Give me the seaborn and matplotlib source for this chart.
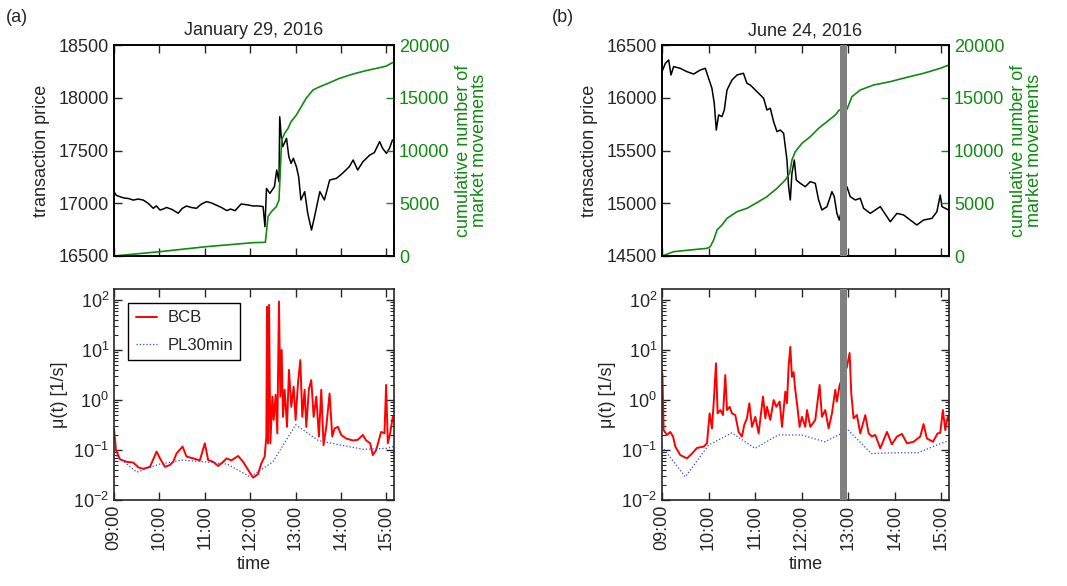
import matplotlib
matplotlib.use('Agg')
import matplotlib.pyplot as plt
import numpy as np
import pandas as pd
import seaborn as sns

# time is in minutes after 09:00
time_ticks = [0, 60, 120, 180, 240, 300, 360]
time_labels = ['09:00', '10:00', '11:00', '12:00', '13:00', '14:00', '15:00']
titles = ['January 29, 2016', 'June 24, 2016']
panel_tags = ['(a)', '(b)']

# (a) January 29, 2016
jan_price_t = [0, 3, 7.9, 13, 19, 25.5, 32, 38.7, 45, 51.9,
               56, 60.7, 65, 69.5, 77, 84.8, 90, 95.8, 102, 109,
               115, 122, 128, 135, 142, 149, 154, 160, 168, 176,
               184, 190, 197, 199.5, 201.5, 206,
               212, 215, 218, 219, 221, 223, 228, 231, 234, 237,
               241, 244, 247, 252, 256, 261, 265, 272, 278, 285,
               294, 302, 311, 316, 322, 329, 338, 344, 351, 355,
               360, 364, 368]
jan_price = [17110, 17075, 17062, 17050, 17045, 17030, 17040, 17030, 17000, 16952,
             16975, 16936, 16945, 16960, 16940, 16905, 16950, 16974, 16960, 16952,
             16990, 17015, 17005, 16983, 16960, 16930, 16945, 16930, 16993, 16985,
             16974, 16975, 16968, 16778, 17140, 17094,
             17157, 17315, 17205, 17820, 17631, 17536, 17615, 17442, 17378, 17426,
             17347, 17252, 17031, 17110, 16904, 16746, 16873, 17110, 17031, 17220,
             17236, 17284, 17347, 17410, 17315, 17394, 17457, 17480, 17584, 17520,
             17473, 17520, 17600]
jan_cum_t = [0, 60.7, 122, 184, 200, 203.5, 208, 214.5, 218, 220,
             221.5, 225.5, 230, 234, 241, 247.5, 254, 263, 272, 283,
             298, 316, 333, 351, 360, 368]
jan_cum = [0, 411, 885, 1264, 1296, 3730, 4200, 4677, 5300, 8470,
           11000, 11630, 12100, 12735, 13370, 14160, 14950, 15740, 16050, 16370,
           16840, 17250, 17570, 17850, 18010, 18330]
jan_bcb_t = [0, 2.6, 7.9, 16.7, 25.5, 32.1, 38.7, 47.5, 56.3, 60.7,
             67.3, 73.9, 78.2, 82.6, 90.6, 95.8, 104.6, 113.4, 120, 124.4,
             131, 137.6, 144.2, 148.6, 155.2, 164, 170.6, 177.2, 183.8, 190.3,
             194.7, 199.1, 201.3, 202.2, 203.5, 204.9, 206.6, 209.3, 211, 213.6,
             215.8, 218, 219.8, 221.6, 223.3, 225.5, 228.6, 231.2, 234.3, 237.4,
             240, 243.1, 246.2, 248.8, 251.9, 254.1, 257.6, 260.7, 263.8, 267.3,
             270.8, 273.9, 276.9, 280.5, 284.9, 288.4, 291.5, 295.9, 300.2, 306.8,
             315.6, 322.2, 328.8, 333.2, 338.5, 342, 346.4, 353, 357.4, 359.6,
             361.8, 364.9, 368.4]
jan_bcb = [0.27, 0.1, 0.065, 0.058, 0.056, 0.045, 0.042, 0.046, 0.093, 0.068,
           0.046, 0.05, 0.058, 0.085, 0.117, 0.074, 0.068, 0.062, 0.136, 0.063,
           0.058, 0.048, 0.058, 0.068, 0.062, 0.076, 0.058, 0.04, 0.028, 0.033,
           0.054, 0.074, 0.186, 73, 0.136, 80, 0.136, 1.17, 0.4, 1.27,
           0.215, 93, 1.17, 10, 0.46, 1.6, 0.29, 4, 0.73, 1.85,
           0.4, 2.15, 6.3, 0.46, 1.6, 0.29, 1.67, 2.5, 0.46, 1.17,
           0.186, 1.6, 0.125, 0.29, 1.35, 0.186, 0.27, 0.29, 0.2, 0.17,
           0.155, 0.16, 0.2, 0.155, 0.136, 0.079, 0.1, 0.23, 0.215, 2.0,
           0.136, 0.215, 0.46]
jan_pl_t = [0, 30, 60, 90, 120, 150, 180, 210, 240, 270, 300, 330, 360, 369]
jan_pl = [0.085, 0.036, 0.052, 0.063, 0.058, 0.052, 0.029, 0.058, 0.32, 0.155,
          0.125, 0.103, 0.108, 0.117]

# (b) June 24, 2016
jun_price_t = [0, 4.3, 8.6, 11.6, 15, 23.6, 32.2, 40.8, 49.4, 55.8,
               60.1, 64.4, 67.4, 70, 73, 77.3, 80.3, 83.8, 90.2, 96.7,
               105, 109.5, 113.8, 122.4, 131, 135.3, 139.6, 143.9, 148.2, 152.5,
               156.8, 161.1, 163.2, 165.4, 167.5, 170.6, 173.1, 178.3, 184.7, 191.2,
               197.6, 201.9, 206.2, 212.7, 219.1, 222.1, 225.5, 228.5, 238.4, 242.7,
               249.2, 255.6, 259.9, 268.5, 281.4, 294.3, 302.9, 311.5, 320, 328.6,
               337.2, 348, 354.4, 358.7, 360.9, 365.2, 369.5]
jun_price = [16247, 16326, 16358, 16216, 16295, 16279, 16247, 16225, 16263, 16279,
             16184, 16089, 15947, 15694, 15837, 15821, 15884, 16074, 16168, 16216,
             16232, 16137, 16121, 16058, 15995, 15884, 15900, 15773, 15679, 15694,
             15663, 15410, 15157, 15031, 15284, 15410, 15220, 15189, 15157, 15205,
             15189, 15031, 14936, 14968, 15110, 15062, 14904, 14841, 15157, 15062,
             15031, 15047, 14952, 14904, 14968, 14825, 14904, 14889, 14841, 14794,
             14841, 14857, 14920, 15078, 14968, 14952, 14936]
jun_cum_t = [0, 15, 36.5, 58, 62.3, 66.6, 70.9, 77.3, 83.8, 96.7,
             109.5, 122.4, 135.3, 148.2, 159, 164.5, 167.5, 171.8, 180.4, 191.2,
             201.9, 212.7, 223.4, 228.5, 238.4, 244.9, 255.6, 272.8, 294.3, 315.8,
             337.2, 358.7, 370]
jun_cum = [0, 411, 570, 727, 885, 1517, 2465, 2939, 3571, 4203,
           4519, 5056, 5625, 6415, 7205, 7837, 9101, 9890, 10680, 11313,
           12103, 12735, 13367, 13841, 13900, 15105, 15737, 16211, 16527, 16938,
           17317, 17791, 18107]
jun_bcb_t = [0.5, 2.1, 6.4, 10.7, 14.2, 17.2, 23.6, 32.2, 38.7, 45.1,
             53.7, 58, 61.4, 64.4, 66.6, 69.6, 71.7, 75.2, 78.6, 81.6,
             83.8, 87.2, 90.2, 94.5, 98.8, 103.1, 106.1, 109.5, 112.6, 116,
             120.3, 124.6, 130.2, 133.2, 135.3, 139.6, 143.9, 147.4, 151.7, 154.7,
             159, 161.1, 163.2, 165.4, 167.5, 169.7, 171.8, 174, 177.4, 180.4,
             184.7, 186.9, 191.2, 197.6, 203.2, 206.2, 210.5, 214.8, 219.1, 223.4,
             225.5, 229, 238.4, 241.9, 244, 247, 251.3, 255.6, 262.1, 266.4,
             270.6, 274.9, 281.4, 290, 296.4, 302.9, 309.3, 315.8, 324.3, 332.9,
             337.2, 341.5, 349.3, 355.3, 358.7, 362.1, 365.2, 368.2, 370.7]
jun_bcb = [3.4, 0.25, 0.2, 0.23, 0.186, 0.117, 0.079, 0.068, 0.085, 0.11,
           0.117, 0.136, 0.54, 0.27, 0.86, 5.4, 0.54, 0.63, 0.5, 3.16,
           0.63, 0.73, 0.54, 0.5, 0.23, 0.186, 0.32, 0.43, 0.86, 0.29,
           0.46, 0.215, 1.17, 0.43, 0.73, 0.4, 1.0, 0.73, 0.93, 0.29,
           1.47, 0.86, 4.6, 11.6, 2.9, 3.6, 1.6, 0.86, 0.29, 0.46,
           0.29, 0.63, 0.29, 0.4, 2.0, 0.46, 0.63, 0.27, 0.54, 1.6,
           0.93, 2.0, 4.6, 8.7, 1.35, 0.43, 0.5, 0.215, 0.5, 0.215,
           0.186, 0.2, 0.108, 0.23, 0.13, 0.186, 0.21, 0.136, 0.146, 0.186,
           0.33, 0.17, 0.146, 0.215, 0.22, 0.63, 0.25, 0.46, 0.4]
jun_pl_t = [0, 30, 60, 90, 120, 150, 180, 210, 240, 270, 300, 330, 360, 370]
jun_pl = [0.117, 0.029, 0.125, 0.22, 0.108, 0.2, 0.2, 0.146, 0.25, 0.085,
          0.088, 0.088, 0.136, 0.155]
jun_band = (229, 238)

price_ticks = [np.arange(16500, 18501, 500), np.arange(14500, 16501, 500)]
cum_ticks = np.arange(0, 20001, 5000)

sns.set_style('ticks')
plt.rcParams['font.family'] = ['Liberation Sans', 'DejaVu Sans']
plt.rcParams['font.size'] = 13
plt.rcParams['axes.linewidth'] = 1.2
plt.rcParams['mathtext.fontset'] = 'custom'
plt.rcParams['mathtext.rm'] = 'Liberation Sans'

fig = plt.figure(figsize=(10.67, 5.86), dpi=100)

lefts = [114 / 1067, 662 / 1067]
widths = [280 / 1067, 287 / 1067]
top_b, bot_b, h = 1 - 256 / 586, 1 - 500 / 586, 211 / 586

data = [
    (jan_price_t, jan_price, jan_cum_t, jan_cum, jan_bcb_t, jan_bcb, jan_pl_t, jan_pl, None),
    (jun_price_t, jun_price, jun_cum_t, jun_cum, jun_bcb_t, jun_bcb, jun_pl_t, jun_pl, jun_band),
]
green = '#108a10'

for i, (pt, pv, ct, cv, bt, bv, lt, lv, band) in enumerate(data):
    ax = fig.add_axes([lefts[i], top_b, widths[i], h])
    axb = fig.add_axes([lefts[i], bot_b, widths[i], h])

    # top: price and cumulative count
    sns.lineplot(x=pt, y=pv, ax=ax, color='black', lw=1.1)
    ax.set_ylim(price_ticks[i][0], price_ticks[i][-1])
    ax.set_yticks(price_ticks[i])
    ax.set_ylabel('transaction price', labelpad=6)
    ax.set_title(titles[i], fontsize=13, pad=7)
    ax2 = ax.twinx()
    sns.lineplot(x=ct, y=cv, ax=ax2, color=green, lw=1.2)
    ax2.set_ylim(0, 20000)
    ax2.set_yticks(cum_ticks)
    ax2.set_ylabel('cumulative number of\nmarket movements', color=green,
                   linespacing=0.95)
    ax2.tick_params(axis='y', colors=green, direction='in', length=6, width=1)
    ax.tick_params(direction='in', length=6, width=1, top=True, labelbottom=False)
    ax.tick_params(axis='y', right=False)
    for a in (ax, ax2):
        a.set_xlim(0, 370)
        a.set_xticks(time_ticks)
        for s in a.spines.values():
            s.set_visible(True)
            s.set_linewidth(1.2)
            s.set_color('black')

    # bottom: intensity
    sns.lineplot(x=bt, y=bv, ax=axb, color='#ff0000', lw=1.4, label='BCB')
    sns.lineplot(x=lt, y=lv, ax=axb, color='#3040ff', lw=0.9, ls=':', label='PL30min')
    axb.set_yscale('log')
    axb.set_ylim(1e-2, 166)
    axb.set_xlim(0, 370)
    axb.set_xticks(time_ticks)
    axb.set_xticklabels(time_labels, rotation=90)
    axb.set_xlabel('time')
    axb.set_ylabel('μ(t) [1/s]')
    axb.tick_params(which='major', direction='in', length=6, width=1,
                    top=True, right=True)
    axb.tick_params(which='minor', direction='in', length=3, width=0.8,
                    left=True, right=True)
    for s in axb.spines.values():
        s.set_visible(True)
        s.set_linewidth(1.2)
    if i == 0:
        leg = axb.legend(loc='upper left', bbox_to_anchor=(0.05, 0.934),
                         borderaxespad=0, fontsize=12,
                         frameon=True, fancybox=False, framealpha=1,
                         edgecolor='black', handlelength=1.3, handletextpad=0.6,
                         borderpad=0.45, labelspacing=0.75)
        leg.get_frame().set_linewidth(1.0)
    else:
        axb.get_legend().remove()

    if band is not None:
        ax2.axvspan(band[0], band[1], color='#808080', lw=0, zorder=10)
        axb.axvspan(band[0], band[1], color='#808080', lw=0, zorder=10)

    fig.text(lefts[i] - (108 if i == 0 else 110) / 1067, 1 - 18 / 586,
             panel_tags[i], fontsize=13, va='center')

fig.savefig('out.png', dpi=100)
